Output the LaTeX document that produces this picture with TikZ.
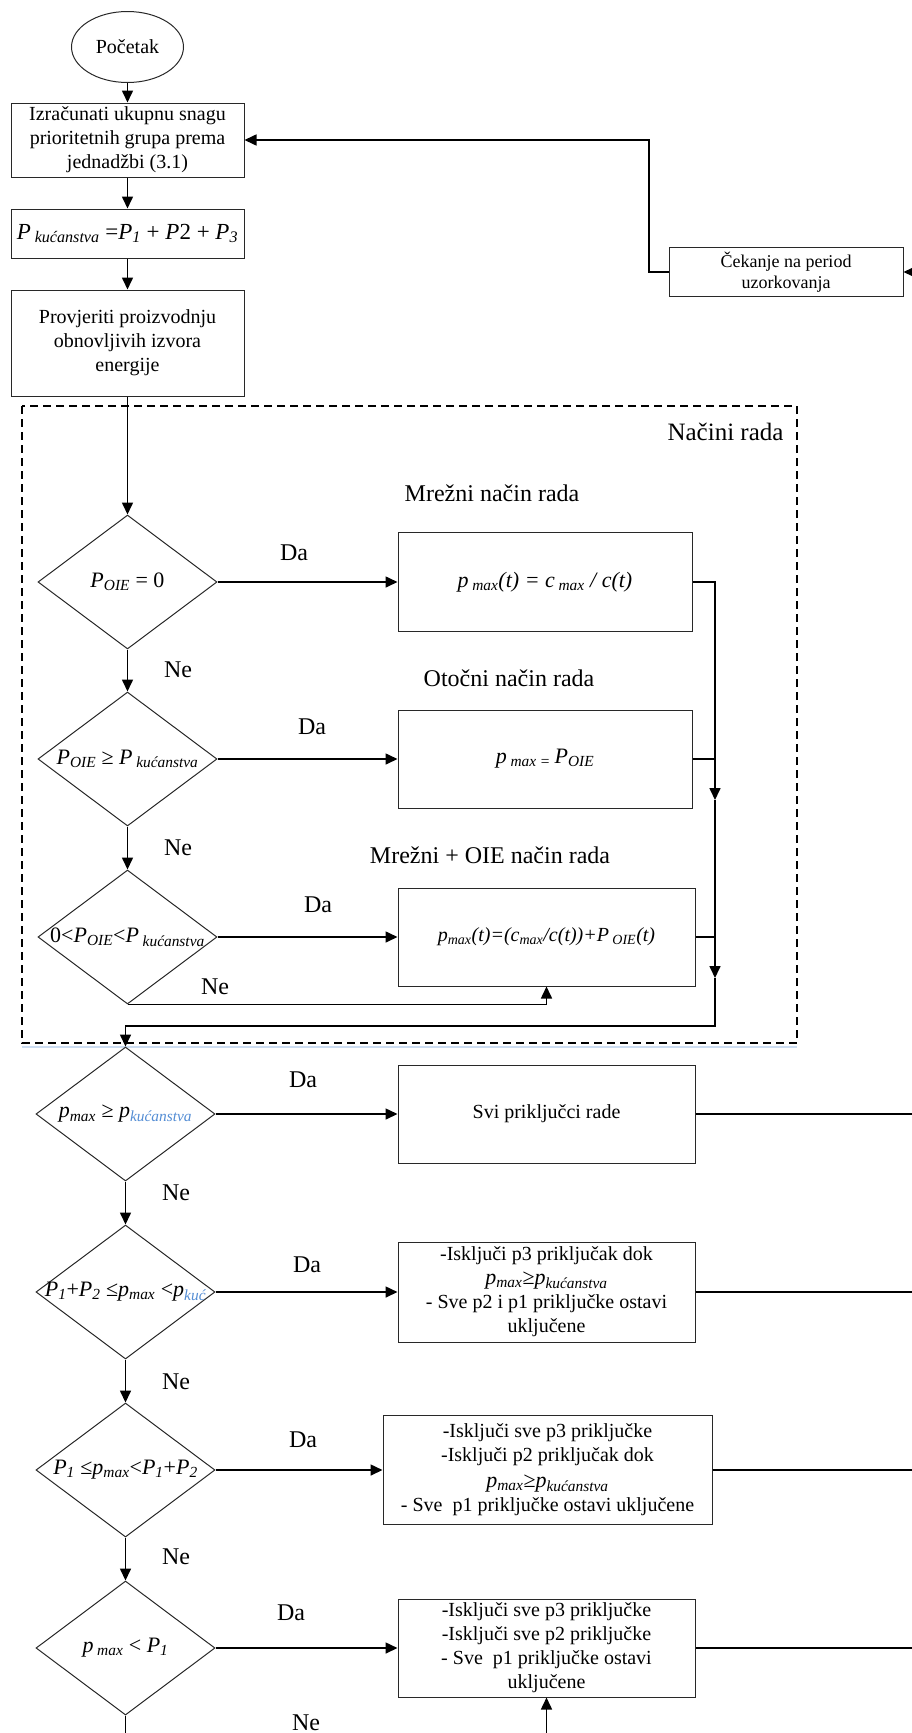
\documentclass[tikz,border=0pt]{standalone}
\usepackage{amsmath}
\usepackage{fontspec}
\setmainfont{Liberation Serif}
\usetikzlibrary{arrows.meta}
\usetikzlibrary{shapes.geometric}
\usetikzlibrary{calc}
\definecolor{kucplava}{RGB}{84,141,212}
\definecolor{okvir}{RGB}{40,40,40}
\newcommand{\mi}[1]{\textit{#1}}
\newcommand{\sub}[1]{\ensuremath{_{\textit{#1}}}}
\newcommand{\fs}[2]{\fontsize{#1}{#2}\selectfont}

\begin{document}
\begin{tikzpicture}[x=1pt,y=-1pt, % koordinate u pikselima, y prema dolje
    kutija/.style={draw=okvir, line width=1pt, rectangle, align=center, inner sep=2pt, font=\fs{20}{24}},
    odluka/.style={draw=okvir, line width=1pt, diamond, minimum width=179pt, minimum height=134pt, inner sep=0pt, font=\fs{22}{25}},
    veza/.style={line width=1.6pt},
    tok/.style={line width=1.6pt, -{Triangle[length=12pt,width=11pt]}},
    oznaka/.style={font=\fs{24}{28}}]
\useasboundingbox (0,0) rectangle (912,1733);

% Okvir za nacine rada
\draw[dashed, dash pattern=on 8pt off 5pt, line width=1.2pt] (22,406) rectangle (797,1043);
\draw[kucplava!30, line width=1.5pt] (22,1047) -- (797,1047);
\node[oznaka, font=\fs{25}{28}, anchor=east] (nacini) at (787,432) {Načini rada};

% Lijevi stupac
\node[ellipse, draw=okvir, line width=1pt, minimum width=112pt, minimum height=71pt, inner sep=0pt, font=\fs{20}{24}] (start) at (127.5,47) {Početak};
\node[kutija, minimum width=233pt, minimum height=74pt] (izracun) at (127.5,140) {Izračunati ukupnu snagu\\ prioritetnih grupa prema\\ jednadžbi (3.1)};
\node[kutija, minimum width=233pt, minimum height=49pt, font=\fs{23}{26}] (pkuc) at (127.5,233.5) {\mi{P}\,\sub{kućanstva} =\mi{P}\sub{1} + \mi{P}2 + \mi{P}\sub{3}};
\node[kutija, minimum width=233pt, minimum height=106pt] (provjera) at (127.5,343) {Provjeriti proizvodnju\\ obnovljivih izvora\\ energije};
\node[kutija, minimum width=234pt, minimum height=49pt, font=\fs{18}{21}] (cekanje) at (786,272) {Čekanje na period\\ uzorkovanja};

% Odluke
\node[odluka] (d1) at (127.5,582) {\makebox[0pt]{\mi{P}\sub{OIE} = 0}};
\node[odluka] (d2) at (127.5,759) {\makebox[0pt]{\mi{P}\sub{OIE} ≥ \mi{P}\,\sub{kućanstva}}};
\node[odluka] (d3) at (127.5,937) {\makebox[0pt]{0<\mi{P}\sub{OIE}<\mi{P}\,\sub{kućanstva}}};
\node[odluka] (d4) at (125.5,1114) {\makebox[0pt]{\mi{p}\sub{max} ≥ \mi{p}{\color{kucplava}\sub{kućanstva}}}};
\node[odluka] (d5) at (125.5,1292) {\makebox[0pt]{\mi{P}\sub{1}+\mi{P}\sub{2} ≤\mi{p}\sub{max} <\mi{p}{\color{kucplava}\sub{kuć}}}};
\node[odluka] (d6) at (125.5,1470) {\makebox[0pt]{\mi{P}\sub{1} ≤\mi{p}\sub{max}<\mi{P}\sub{1}+\mi{P}\sub{2}}};
\node[odluka] (d7) at (125.5,1648) {\makebox[0pt]{\mi{p}\,\sub{max} < \mi{P}\sub{1}}};

% Desni stupac
\node[kutija, minimum width=294pt, minimum height=99pt, font=\fs{22}{24}] (r1) at (545,582) {\mi{p}\,\sub{max}\mi{(t) = c}\,\sub{max}\mi{ / c(t)}};
\node[kutija, minimum width=294pt, minimum height=98pt, font=\fs{22}{24}] (r2) at (545,759) {\mi{p}\,\sub{max =}\,\mi{P}\sub{OIE}};
\node[kutija, minimum width=297pt, minimum height=98pt, font=\fs{20}{24}] (r3) at (546.5,937) {\mi{p}\sub{max}\mi{(t)=(c}\sub{max}\mi{/c(t))+P}\,\sub{OIE}\mi{(t)}};
\node[kutija, minimum width=297pt, minimum height=98pt, font=\fs{20}{24}] (r4) at (546.5,1114) {Svi priključci rade};
\node[kutija, minimum width=297pt, minimum height=100pt] (r5) at (546.5,1292) {-Isključi p3 priključak dok\\ {\fs{22}{24}\mi{p}\sub{max}≥\mi{p}\sub{kućanstva}}\\ - Sve p2 i p1 priključke ostavi\\ uključene};
\node[kutija, minimum width=329pt, minimum height=109pt] (r6) at (547.5,1470) {-Isključi sve p3 priključke\\ -Isključi p2 priključak dok\\[2pt] {\fs{22}{24}\mi{p}\sub{max}≥\mi{p}\sub{kućanstva}}\\ - Sve\ \ p1 priključke ostavi uključene};
\node[kutija, minimum width=297pt, minimum height=98pt] (r7) at (546.5,1648) {-Isključi sve p3 priključke\\ -Isključi sve p2 priključke\\ - Sve\ \ p1 priključke ostavi\\ uključene};

% Naslovi nacina rada
\node[oznaka] (mrezni) at (492,493) {Mrežni način rada};
\node[oznaka] (otocni) at (509,678) {Otočni način rada};
\node[oznaka] (mrezniOIE) at (490,855) {Mrežni + OIE način rada};

% Oznake Da / Ne
\foreach \x/\y [count=\i] in {294/553, 312/727, 318/905, 303/1080, 307/1265, 303/1440, 291/1613} {
    \node[oznaka] (da\i) at (\x,\y) {Da};
}
\foreach \x/\y [count=\i] in {178/670, 178/848, 215/987, 176/1193, 176/1382, 176/1557, 306/1723} {
    \node[oznaka] (ne\i) at (\x,\y) {Ne};
}

% Pomocne tocke
\coordinate (desno) at (912,0);
\coordinate (dno) at (0,1733);
\coordinate (povrat) at (649,140);
\coordinate (k1) at (715,800);
\coordinate (k2) at (715,978);
\coordinate (k3) at (715,1026);

% Veze
\draw[tok] (start) -- (izracun);
\draw[tok] (izracun) -- (pkuc);
\draw[tok] (pkuc) -- (provjera);
\draw[tok] (provjera) -- (d1);
\draw[tok] (cekanje.east -| desno) -- (cekanje.east);
\draw[tok] (cekanje.west) -| (povrat) -- (izracun.east);
\foreach \i in {1,...,7} {
    \draw[tok] (d\i.east) -- (r\i.west);
}
\draw[tok] (d1) -- (d2);
\draw[tok] (d2) -- (d3);
\draw[tok] (d4) -- (d5);
\draw[tok] (d5) -- (d6);
\draw[tok] (d6) -- (d7);
\draw[tok] (d3.south) -| (r3.south);
% sabirna linija nacina rada
\draw[tok] (r1.east) -| (k1);
\draw[veza] (r2.east) -- (r2.east -| k1);
\draw[tok] (k1) -- (k2);
\draw[veza] (r3.east) -- (r3.east -| k2);
\draw[tok] (k2) -- (k3) -| (d4.north);
% izlazi desno i dolje
\foreach \i in {4,...,7} {
    \draw[veza] (r\i.east) -- (r\i.east -| desno);
}
\draw[veza] (d7.south) -- (d7.south |- dno);
\draw[tok] (r7.south |- dno) -- (r7.south);
\end{tikzpicture}
\end{document}
